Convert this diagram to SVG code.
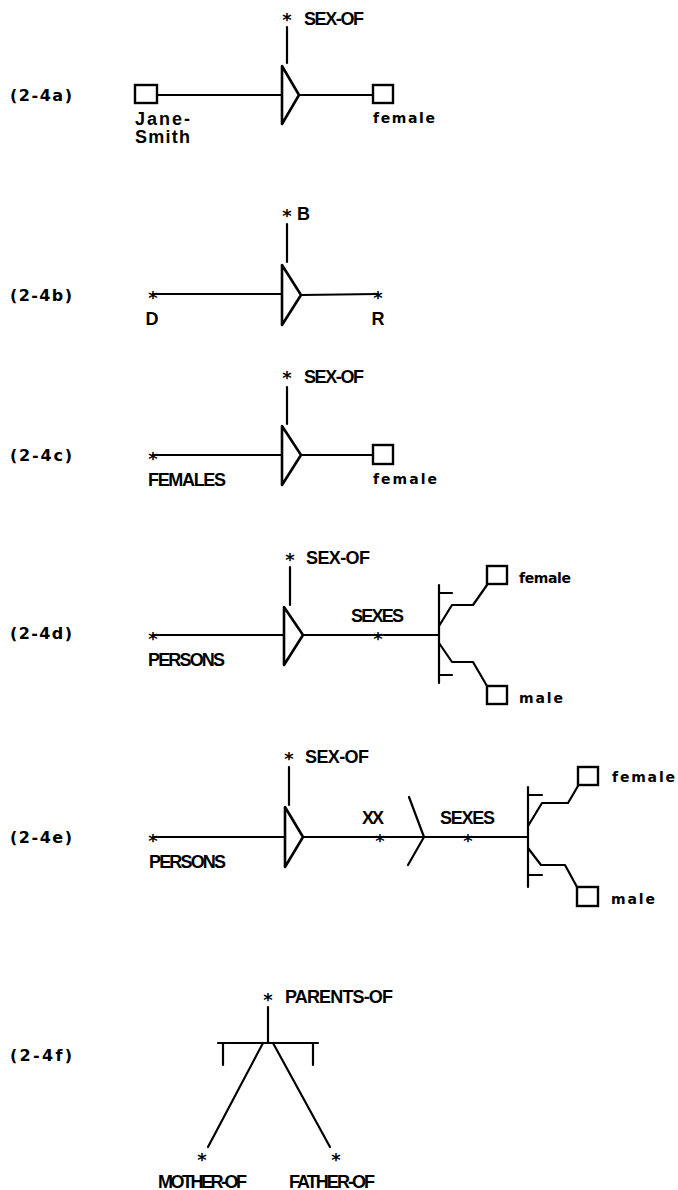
<svg xmlns="http://www.w3.org/2000/svg" width="678" height="1190" viewBox="0 0 678 1190">
<style>
.ln{stroke:#000;stroke-width:2.2;fill:none;stroke-linecap:round;stroke-linejoin:round}
.box{stroke:#000;stroke-width:2.4;fill:#fff}
.rel{stroke:#000;stroke-width:2.6;fill:#fff;stroke-linejoin:round}
.t{font-family:"Liberation Sans",Arial,sans-serif;font-weight:bold;font-size:18px;fill:#000}
.lc{font-family:"DejaVu Sans",sans-serif;font-weight:bold;font-size:14px;fill:#000}
.lab{font-family:"DejaVu Sans",sans-serif;font-weight:bold;font-size:16px;fill:#000}
.st{font-family:"DejaVu Sans",sans-serif;font-weight:bold;font-size:18px;fill:#000;text-anchor:middle}
</style>
<rect width="678" height="1190" fill="#fff"/>

<g id="labels">
<text class="lab" x="10" y="101" textLength="62">(2-4a)</text>
<text class="lab" x="10" y="301" textLength="62">(2-4b)</text>
<text class="lab" x="10" y="461" textLength="62">(2-4c)</text>
<text class="lab" x="10" y="639" textLength="62">(2-4d)</text>
<text class="lab" x="10" y="843" textLength="62">(2-4e)</text>
<text class="lab" x="10" y="1061" textLength="62">(2-4f)</text>
</g>

<g id="connectors">
<!-- a -->
<line class="ln" x1="157" y1="95" x2="282" y2="95"/>
<line class="ln" x1="299" y1="95" x2="373" y2="95"/>
<line class="ln" x1="287" y1="27" x2="287" y2="63"/>
<!-- b -->
<line class="ln" x1="153" y1="294" x2="282" y2="294"/>
<line class="ln" x1="301" y1="295" x2="378" y2="294"/>
<line class="ln" x1="287" y1="224" x2="287" y2="262"/>
<!-- c -->
<line class="ln" x1="153" y1="455" x2="282" y2="455"/>
<line class="ln" x1="301" y1="455" x2="373" y2="455"/>
<line class="ln" x1="287" y1="387" x2="287" y2="424"/>
<!-- d -->
<line class="ln" x1="153" y1="635" x2="284" y2="635"/>
<line class="ln" x1="303" y1="635" x2="439" y2="635"/>
<line class="ln" x1="290" y1="567" x2="290" y2="605"/>
<polyline class="ln" points="439,626 452,605 473,605 487,585"/>
<polyline class="ln" points="439,643 452,662 473,662 487,686"/>
<!-- e -->
<line class="ln" x1="153" y1="837" x2="285" y2="837"/>
<line class="ln" x1="303" y1="837" x2="528" y2="837"/>
<line class="ln" x1="289" y1="767" x2="289" y2="805"/>
<polyline class="ln" points="528,826 542,803 568,803 578,786"/>
<polyline class="ln" points="528,848 541,865 565,865 577,887"/>
<!-- f -->
<line class="ln" x1="268" y1="1007" x2="268" y2="1043"/>
<line class="ln" x1="263" y1="1043" x2="208" y2="1147"/>
<line class="ln" x1="273" y1="1043" x2="330" y2="1147"/>
</g>

<g id="diagram-a">
<g id="a-jane"><rect class="box" x="135" y="85" width="22" height="18"/>
<text class="t" x="135" y="125" textLength="55">Jane-</text>
<text class="t" x="135" y="143" textLength="55">Smith</text></g>
<g id="a-rel"><polygon class="rel" points="282,66 282,124 299,95"/></g>
<g id="a-sexof"><text class="st" x="287" y="26">*</text><text class="t" x="304" y="25" textLength="60">SEX-OF</text></g>
<g id="a-female"><rect class="box" x="373" y="85" width="20" height="18"/>
<text class="lc" x="373" y="123" textLength="62">female</text></g>
</g>

<g id="diagram-b">
<g id="b-d"><text class="st" x="153" y="304">*</text><text class="t" x="152" y="325" text-anchor="middle">D</text></g>
<g id="b-rel"><polygon class="rel" points="282,265 282,325 301,295"/></g>
<g id="b-b"><text class="st" x="287" y="222">*</text><text class="t" x="297" y="220">B</text></g>
<g id="b-r"><text class="st" x="378" y="304">*</text><text class="t" x="378" y="325" text-anchor="middle">R</text></g>
</g>

<g id="diagram-c">
<g id="c-females"><text class="st" x="153" y="465">*</text><text class="t" x="148" y="486" textLength="78">FEMALES</text></g>
<g id="c-rel"><polygon class="rel" points="282,426 282,485 301,455"/></g>
<g id="c-sexof"><text class="st" x="287" y="384">*</text><text class="t" x="304" y="383" textLength="60">SEX-OF</text></g>
<g id="c-female"><rect class="box" x="373" y="445" width="20" height="19"/>
<text class="lc" x="373" y="484" textLength="64">female</text></g>
</g>

<g id="diagram-d">
<g id="d-persons"><text class="st" x="153" y="645">*</text><text class="t" x="148" y="666" textLength="77">PERSONS</text></g>
<g id="d-rel"><polygon class="rel" points="284,607 284,665 303,635"/></g>
<g id="d-sexof"><text class="st" x="290" y="566">*</text><text class="t" x="306" y="564" textLength="64">SEX-OF</text></g>
<g id="d-sexes"><text class="st" x="378" y="645">*</text><text class="t" x="351" y="622" textLength="53">SEXES</text></g>
<g id="d-or"><line class="ln" x1="439" y1="585" x2="439" y2="683"/><line class="ln" x1="439" y1="593" x2="452" y2="593"/><line class="ln" x1="439" y1="675" x2="452" y2="675"/></g>
<g id="d-female"><rect class="box" x="487" y="566" width="20" height="18"/><text class="lc" x="519" y="583" textLength="52">female</text></g>
<g id="d-male"><rect class="box" x="487" y="686" width="20" height="18"/><text class="lc" x="519" y="703" textLength="44">male</text></g>
</g>

<g id="diagram-e">
<g id="e-persons"><text class="st" x="153" y="847">*</text><text class="t" x="149" y="868" textLength="77">PERSONS</text></g>
<g id="e-rel"><polygon class="rel" points="285,807 285,867 303,837"/></g>
<g id="e-sexof"><text class="st" x="289" y="765">*</text><text class="t" x="305" y="763" textLength="64">SEX-OF</text></g>
<g id="e-xx"><text class="st" x="380" y="847">*</text><text class="t" x="362" y="824" textLength="22">XX</text></g>
<g id="e-fork"><line class="ln" x1="409" y1="797" x2="424" y2="837"/><line class="ln" x1="424" y1="837" x2="408" y2="865"/></g>
<g id="e-sexes"><text class="st" x="468" y="847">*</text><text class="t" x="440" y="824" textLength="55">SEXES</text></g>
<g id="e-or"><line class="ln" x1="528" y1="787" x2="528" y2="887"/><line class="ln" x1="528" y1="795" x2="542" y2="795"/><line class="ln" x1="528" y1="875" x2="542" y2="875"/></g>
<g id="e-female"><rect class="box" x="578" y="767" width="20" height="18"/><text class="lc" x="612" y="782" textLength="63">female</text></g>
<g id="e-male"><rect class="box" x="577" y="887" width="21" height="19"/><text class="lc" x="611" y="904" textLength="44">male</text></g>
</g>

<g id="diagram-f">
<g id="f-parents"><text class="st" x="268" y="1006">*</text><text class="t" x="285" y="1003" textLength="108">PARENTS-OF</text></g>
<g id="f-and"><line class="ln" x1="218" y1="1043" x2="318" y2="1043"/><line class="ln" x1="223" y1="1043" x2="223" y2="1065"/><line class="ln" x1="313" y1="1043" x2="313" y2="1065"/></g>
<g id="f-mother"><text class="st" x="202" y="1166">*</text><text class="t" x="158" y="1188" textLength="89">MOTHER-OF</text></g>
<g id="f-father"><text class="st" x="336" y="1166">*</text><text class="t" x="289" y="1188" textLength="86">FATHER-OF</text></g>
</g>
</svg>
